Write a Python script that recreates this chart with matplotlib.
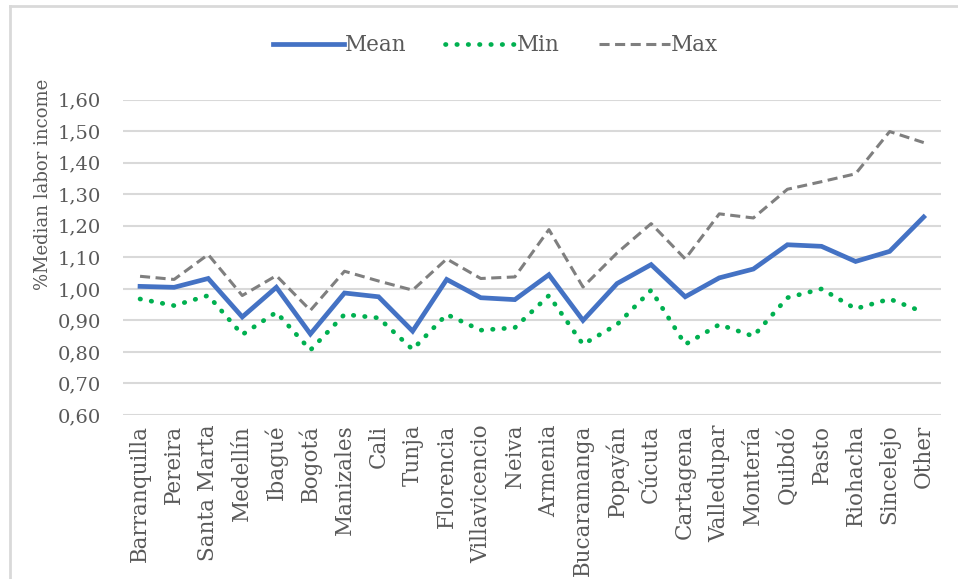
import matplotlib.pyplot as plt
from matplotlib.lines import Line2D

ciudades = ['Barranquilla', 'Pereira', 'Santa Marta', 'Medellín', 'Ibagué', 'Bogotá',
            'Manizales', 'Cali', 'Tunja', 'Florencia', 'Villavicencio', 'Neiva',
            'Armenia', 'Bucaramanga', 'Popayán', 'Cúcuta', 'Cartagena', 'Valledupar',
            'Montería', 'Quibdó', 'Pasto', 'Riohacha', 'Sincelejo', 'Other']

media = [1.008, 1.005, 1.033, 0.911, 1.005, 0.857, 0.987, 0.975, 0.866, 1.030, 0.972, 0.966,
         1.045, 0.900, 1.017, 1.077, 0.975, 1.035, 1.063, 1.140, 1.135, 1.087, 1.119, 1.228]
minimo = [0.968, 0.947, 0.979, 0.855, 0.926, 0.806, 0.919, 0.908, 0.808, 0.919, 0.869, 0.877,
          0.979, 0.824, 0.887, 0.996, 0.824, 0.887, 0.850, 0.972, 1.000, 0.937, 0.968, 0.926]
maximo = [1.040, 1.030, 1.109, 0.979, 1.042, 0.932, 1.056, 1.025, 0.996, 1.095, 1.033, 1.038,
          1.188, 1.006, 1.114, 1.207, 1.095, 1.238, 1.225, 1.316, 1.340, 1.365, 1.499, 1.464]

yticks = [0.60, 0.70, 0.80, 0.90, 1.00, 1.10, 1.20, 1.30, 1.40, 1.50, 1.60]

AZUL = '#4472C4'
VERDE = '#00B050'
GRIS = '#7F7F7F'
REJILLA = '#D9D9D9'
TEXTO = '#595959'

plt.rcParams['font.family'] = ['DejaVu Serif']

fig = plt.figure(figsize=(9.58, 5.79), dpi=100)
ax = fig.add_axes([0.1284, 0.2832, 0.8536, 0.5446])

x = list(range(len(ciudades)))
ax.plot(x, media, color=AZUL, lw=3.4, solid_joinstyle='miter', label='Mean', zorder=4)
ax.plot(x, minimo, color=VERDE, lw=3.4, linestyle=(0, (0.1, 2.3)),
        dash_capstyle='round', label='Min', zorder=3)
ax.plot(x, maximo, color=GRIS, lw=2.2, linestyle=(0, (3.3, 1.8)), label='Max', zorder=3)

ax.set_xlim(-0.5, len(ciudades) - 0.5)
ax.set_ylim(0.6, 1.6)
ax.set_yticks(yticks)
ax.set_yticklabels([f'{v:.2f}'.replace('.', ',') for v in yticks], fontsize=14)
ax.set_xticks(x)
ax.set_xticklabels(ciudades, rotation=90, fontsize=15.5)
ax.tick_params(axis='both', length=0, colors=TEXTO)
ax.tick_params(axis='y', pad=16)
ax.tick_params(axis='x', pad=7)
ax.grid(axis='y', color=REJILLA, lw=1.5)
ax.set_axisbelow(True)
for s in ax.spines.values():
    s.set_visible(False)

ax.set_ylabel('%Median labor income', fontsize=13, color=TEXTO)
ax.yaxis.set_label_coords(-0.087, 0.733)

leg = fig.legend(loc='center', bbox_to_anchor=(0.517, 0.922), ncol=3, frameon=False,
                 fontsize=15.5, handlelength=3.3, handletextpad=0.05, columnspacing=1.8)
for t in leg.get_texts():
    t.set_color(TEXTO)

# marco del gráfico
fig.add_artist(Line2D([0.0104, 1.0], [0.9896, 0.9896], color=REJILLA, lw=2))
fig.add_artist(Line2D([0.0104, 0.0104], [0.0, 0.9896], color=REJILLA, lw=2))

fig.savefig('out.png', dpi=100, facecolor='white')
